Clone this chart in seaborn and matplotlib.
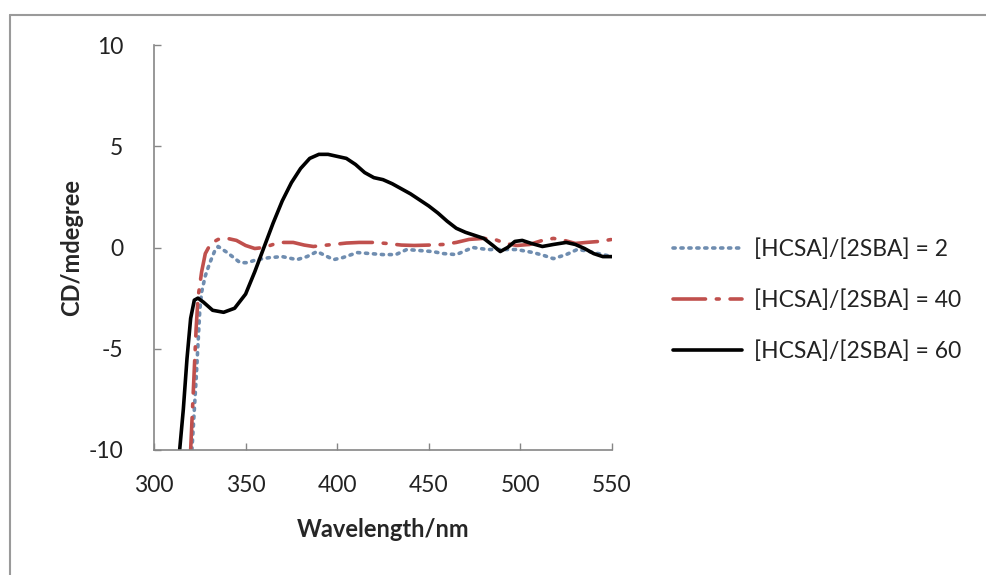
import numpy as np
import pandas as pd
import seaborn as sns
import matplotlib.pyplot as plt
from matplotlib.lines import Line2D

# CD spectra (wavelength in nm, CD in mdeg)
wl_2 = [320.7, 323, 325, 326, 328, 330.5, 333, 335, 340, 347, 351, 356, 363, 370, 378, 383.5,
        389, 398, 403, 411, 418, 425, 432, 438, 445, 452, 458, 465, 474, 482, 490, 498, 507,
        513, 518, 525, 531, 535, 540, 545, 550]
cd_2 = [-10, -6.5, -3.1, -2.2, -1.4, -0.75, -0.2, 0.05, -0.25, -0.75, -0.75, -0.6, -0.5, -0.45,
        -0.6, -0.45, -0.2, -0.6, -0.5, -0.25, -0.3, -0.35, -0.35, -0.1, -0.15, -0.2, -0.3, -0.35,
        0.0, -0.1, -0.1, -0.1, -0.25, -0.4, -0.55, -0.35, -0.1, -0.15, -0.25, -0.35, -0.45]

wl_40 = [320, 321, 322, 323, 324, 326, 328, 331, 335, 340, 345, 350, 355, 360, 365, 370, 376,
         382, 387, 392, 398, 405, 412, 420, 427, 435, 442, 450, 458, 465, 472, 480, 486, 492,
         498, 505, 512, 518, 524, 530, 536, 543, 550]
cd_40 = [-10, -8, -6, -4, -2.5, -1.2, -0.3, 0.2, 0.4, 0.45, 0.35, 0.1, -0.05, 0.0, 0.15, 0.25,
         0.25, 0.12, 0.05, 0.1, 0.15, 0.22, 0.25, 0.25, 0.2, 0.12, 0.1, 0.12, 0.15, 0.25, 0.4,
         0.45, 0.4, 0.2, 0.1, 0.15, 0.35, 0.45, 0.35, 0.2, 0.25, 0.3, 0.4]

wl_60 = [314, 316, 318, 320, 322, 324, 327, 332, 338, 344, 350, 355, 360, 365, 370, 375, 380,
         385, 390, 395, 400, 405, 410, 415, 420, 425, 430, 435, 440, 445, 450, 455, 460, 465,
         470, 475, 480, 485, 489, 493, 497, 501, 506, 512, 518, 525, 530, 535, 540, 545, 550]
cd_60 = [-10, -8, -5.5, -3.5, -2.6, -2.5, -2.7, -3.1, -3.2, -3.0, -2.3, -1.2, 0.0, 1.2, 2.3,
         3.2, 3.9, 4.4, 4.6, 4.6, 4.5, 4.4, 4.1, 3.7, 3.45, 3.35, 3.15, 2.9, 2.65, 2.35, 2.05,
         1.7, 1.3, 0.95, 0.75, 0.6, 0.45, 0.1, -0.2, 0.0, 0.3, 0.35, 0.2, 0.05, 0.15, 0.25, 0.15,
         -0.05, -0.3, -0.45, -0.45]

labels = ["[HCSA]/[2SBA] = 2", "[HCSA]/[2SBA] = 40", "[HCSA]/[2SBA] = 60"]
colors = ["#6f8db0", "#c0504d", "#000000"]

df = pd.concat([
    pd.DataFrame({"wl": wl_2, "cd": cd_2, "series": labels[0]}),
    pd.DataFrame({"wl": wl_40, "cd": cd_40, "series": labels[1]}),
    pd.DataFrame({"wl": wl_60, "cd": cd_60, "series": labels[2]}),
])

sns.set_theme(style="white")
plt.rcParams["font.family"] = ["Lato", "DejaVu Sans"]
plt.rcParams["axes.unicode_minus"] = False

fig = plt.figure(figsize=(9.87, 5.75), dpi=100)
ax = fig.add_axes([154 / 987, 1 - 450 / 575, (612 - 154) / 987, (450 - 45) / 575])

sns.lineplot(data=df, x="wl", y="cd", hue="series", style="series", ax=ax,
             palette=dict(zip(labels, colors)),
             dashes={labels[0]: (0.6, 1.6), labels[1]: (9, 3, 0.8, 3), labels[2]: ""},
             linewidth=2.6, sort=False, estimator=None)
for line in ax.get_lines():
    line.set_dash_capstyle("round")

ax.set_xlim(300, 550)
ax.set_ylim(-10, 10)
ax.set_xticks([300, 350, 400, 450, 500, 550])
ax.set_yticks([-10, -5, 0, 5, 10])
ax.tick_params(direction="in", length=5, width=1, color="#868686", labelsize=16.5,
               labelcolor="#222222", pad=18, bottom=True, left=True)
ax.tick_params(axis="y", pad=22)
for s in ["top", "right"]:
    ax.spines[s].set_visible(False)
for s in ["left", "bottom"]:
    ax.spines[s].set_color("#868686")
    ax.spines[s].set_linewidth(1.2)

ax.set_xlabel("Wavelength/nm", fontsize=17, fontweight="bold", labelpad=16)
ax.set_ylabel("CD/mdegree", fontsize=17, fontweight="bold", labelpad=4)

ax.legend(handles=ax.get_lines()[:3], labels=labels, loc="upper left",
          bbox_to_anchor=(673 / 987, 1 - 238 / 575), bbox_transform=fig.transFigure,
          frameon=False, fontsize=16.5, handlelength=3.0, handletextpad=0.55,
          labelspacing=1.28, borderpad=0, borderaxespad=0, labelcolor="#222222")

# outer chart frame
fig.add_artist(Line2D([10 / 987, 1], [1 - 15 / 575] * 2, color="#9a9a9a", lw=1.5))
fig.add_artist(Line2D([10 / 987] * 2, [0, 1 - 15 / 575], color="#9a9a9a", lw=1.5))

fig.savefig("out.png", dpi=100)
